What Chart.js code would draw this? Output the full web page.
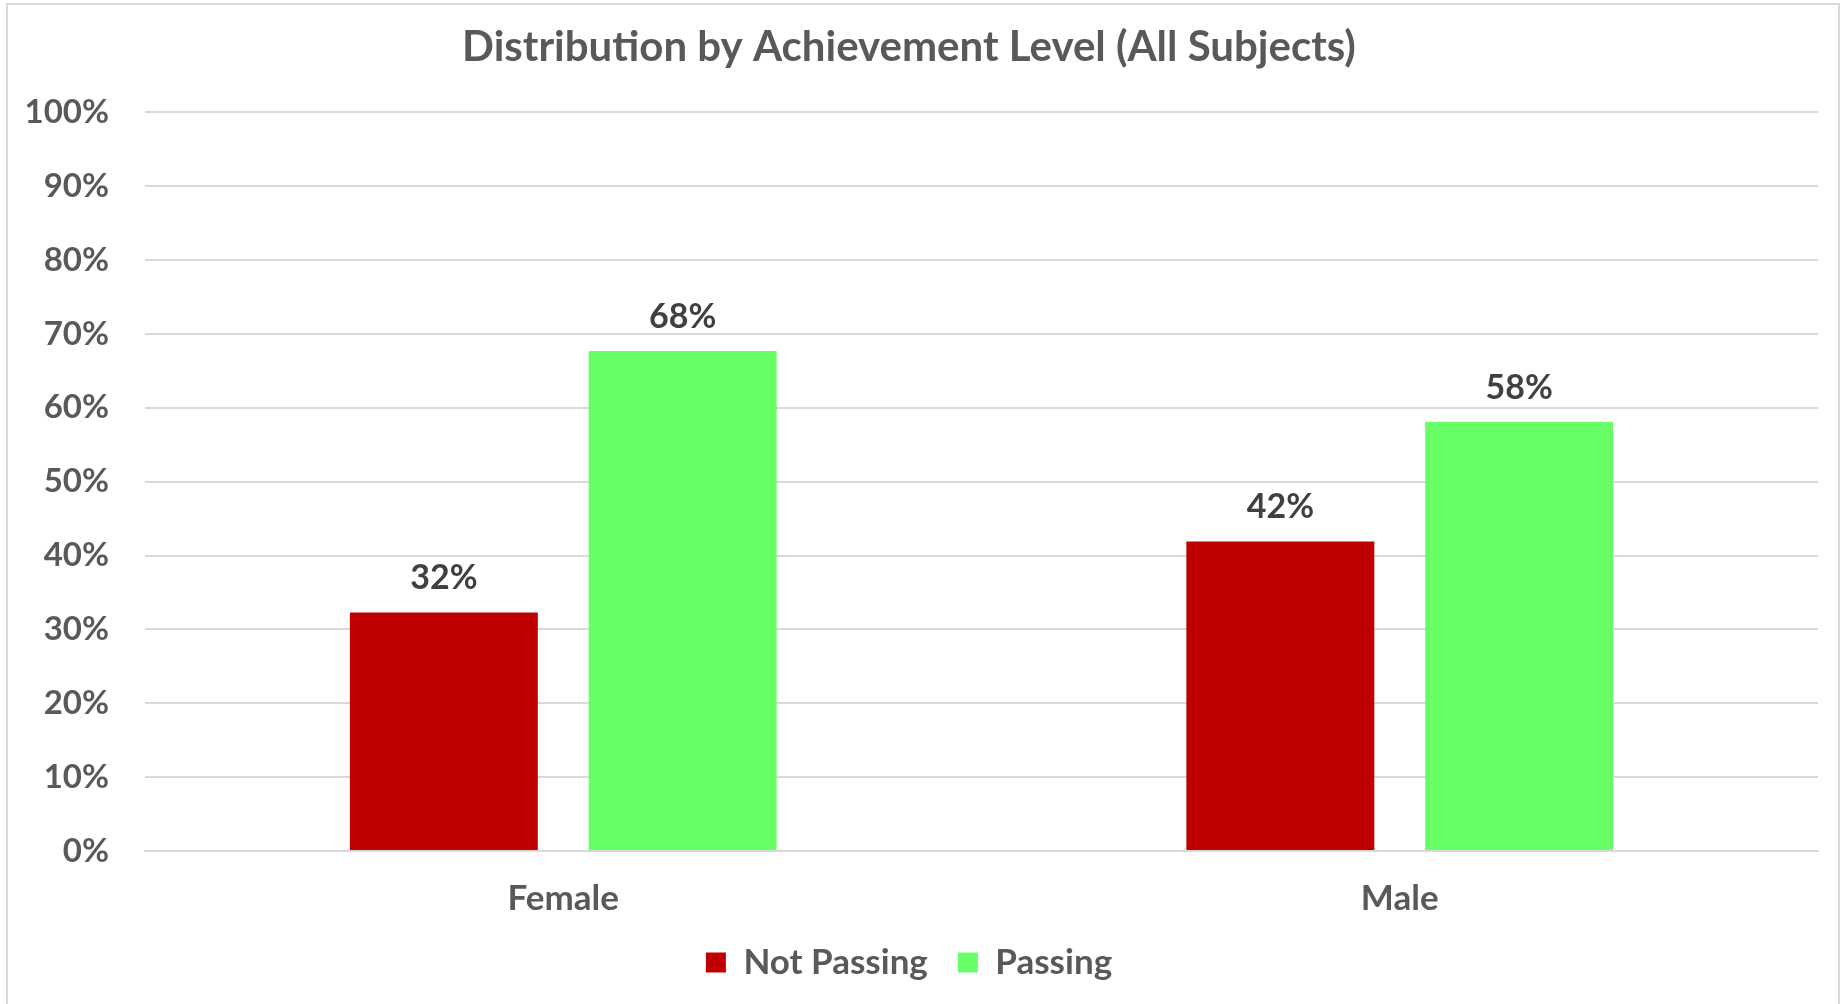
<!DOCTYPE html>
<html>
<head>
<meta charset="utf-8">
<script src="https://cdn.jsdelivr.net/npm/chart.js@4/dist/chart.umd.min.js"></script>
<style>
  html, body { margin: 0; padding: 0; background: #fff; }
  #wrap { position: relative; width: 1845px; height: 1004px; overflow: hidden; }
  #frame {
    position: absolute; left: 6px; top: 3px; width: 1830px; height: 1020px;
    border: 2px solid #d9d9d9; pointer-events: none;
  }
</style>
</head>
<body>
<div id="wrap">
  <canvas id="achievement"></canvas>
  <div id="frame"></div>
</div>
<script>
const categories = ['Female', 'Male']
const notPassing = [0.323, 0.419]
const passing = [0.677, 0.581]
const seriesNames = ['Not Passing', 'Passing']

const gray = '#595959'
const fontFamily = 'Lato, "Open Sans", sans-serif'

// values above each bar, like Excel data labels
const barLabels = {
    id: 'barLabels',
    afterDatasetsDraw(chart) {
        const ctx = chart.ctx
        ctx.save()
        ctx.font = 'bold 34px ' + fontFamily
        ctx.fillStyle = '#404040'
        ctx.textAlign = 'center'
        ctx.textBaseline = 'middle'
        chart.data.datasets.forEach((ds, i) => {
            chart.getDatasetMeta(i).data.forEach((bar, j) => {
                ctx.fillText(Math.round(ds.data[j] * 100) + '%', bar.x, bar.y - 34)
            })
        })
        ctx.restore()
    }
}

let ctx = document.getElementById('achievement').getContext('2d')
let myChart = new Chart(ctx, {
    type: 'bar',
    data: {
        labels: categories,
        datasets: [{
            label: seriesNames[0],
            data: notPassing,
            backgroundColor: '#c00000'
        }, {
            label: seriesNames[1],
            data: passing,
            backgroundColor: '#66ff66'
        }]
    },
    options: {
        responsive: true,
        maintainAspectRatio: false,
        animation: false,
        categoryPercentage: 0.571,
        barPercentage: 0.787,
        layout: {
            padding: { top: 4, left: 0, right: 27, bottom: 14 }
        },
        plugins: {
            title: {
                display: true,
                text: 'Distribution by Achievement Level (All Subjects)',
                color: gray,
                font: { family: fontFamily, size: 42, weight: 'bold' },
                padding: { top: 18, bottom: 40 }
            },
            legend: {
                position: 'bottom',
                labels: {
                    color: gray,
                    font: { family: fontFamily, size: 35, weight: 'bold' },
                    boxWidth: 20,
                    boxHeight: 20,
                    padding: 30
                }
            },
            tooltip: { enabled: false }
        },
        scales: {
            x: {
                grid: { display: false, drawTicks: false },
                border: { color: '#d9d9d9', width: 2 },
                ticks: {
                    color: gray,
                    padding: 27,
                    font: { family: fontFamily, size: 35, weight: 'bold' }
                },
                afterFit: s => { s.height = 64 }
            },
            y: {
                min: 0,
                max: 1,
                grid: { color: '#d9d9d9', lineWidth: 2, drawTicks: false },
                border: { display: false },
                ticks: {
                    stepSize: 0.1,
                    padding: 36,
                    color: gray,
                    font: { family: fontFamily, size: 33, weight: 'bold' },
                    callback: v => Math.round(v * 100) + '%'
                },
                afterFit: s => { s.width = 145 }
            }
        }
    },
    plugins: [barLabels]
});
</script>
</body>
</html>
